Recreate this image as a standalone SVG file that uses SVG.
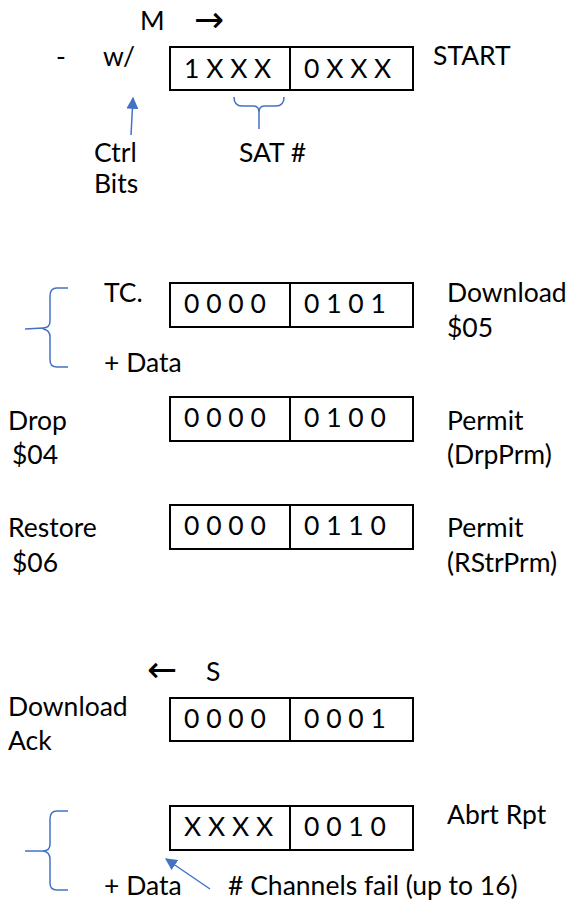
<svg xmlns="http://www.w3.org/2000/svg" width="571" height="905" viewBox="0 0 571 905">
<style>
text{font-family:Lato,"Open Sans","Liberation Sans",sans-serif;font-size:26.5px;fill:#000}
.arr{font-family:"DejaVu Sans",sans-serif;font-size:36px}
.box{fill:#fff;stroke:#000;stroke-width:2}
.blue{fill:none;stroke:#4472C4;stroke-width:1.5}
</style>
<defs>
<marker id="ah" viewBox="0 0 10 10" refX="9" refY="5" markerWidth="12" markerHeight="12" markerUnits="userSpaceOnUse" orient="auto"><path d="M0,0L10,5L0,10z" fill="#4472C4"/></marker>
</defs>
<rect width="571" height="905" fill="#fff"/>
<g id="header-m">
<text x="140" y="30">M</text>
<text class="arr" x="194" y="32">→</text>
<text x="56" y="66">-</text>
<text x="103" y="66">w/</text>
</g>
<g id="start">
<rect class="box" x="170" y="47" width="243" height="43"/>
<line x1="290" y1="47" x2="290" y2="90" stroke="#000" stroke-width="2"/>
<text x="184" y="78">1 X X X</text>
<text x="304" y="78">0 X X X</text>
<text x="433" y="65">START</text>
<text x="239" y="162">SAT #</text>
<text x="94" y="162">Ctrl</text>
<text x="94" y="193">Bits</text>
</g>
<g id="tc">
<rect class="box" x="170" y="283" width="243" height="44"/>
<line x1="290" y1="283" x2="290" y2="327" stroke="#000" stroke-width="2"/>
<text x="184" y="313">0 0 0 0</text>
<text x="304" y="313">0 1 0 1</text>
<text x="104" y="302">TC.</text>
<text x="104" y="372">+ Data</text>
<text x="447" y="302">Download</text>
<text x="447" y="337">$05</text>
</g>
<g id="drop">
<rect class="box" x="170" y="397" width="243" height="44"/>
<line x1="290" y1="397" x2="290" y2="441" stroke="#000" stroke-width="2"/>
<text x="184" y="427">0 0 0 0</text>
<text x="304" y="427">0 1 0 0</text>
<text x="8" y="430">Drop</text>
<text x="12" y="464">$04</text>
<text x="447" y="430">Permit</text>
<text x="447" y="464">(DrpPrm)</text>
</g>
<g id="restore">
<rect class="box" x="170" y="505" width="243" height="44"/>
<line x1="290" y1="505" x2="290" y2="549" stroke="#000" stroke-width="2"/>
<text x="184" y="535">0 0 0 0</text>
<text x="304" y="535">0 1 1 0</text>
<text x="8" y="537">Restore</text>
<text x="12" y="572">$06</text>
<text x="447" y="537">Permit</text>
<text x="447" y="572">(RStrPrm)</text>
</g>
<g id="header-s">
<text class="arr" x="147" y="682">←</text>
<text x="206" y="681">S</text>
</g>
<g id="ack">
<rect class="box" x="170" y="698" width="243" height="43"/>
<line x1="290" y1="698" x2="290" y2="741" stroke="#000" stroke-width="2"/>
<text x="184" y="728">0 0 0 0</text>
<text x="304" y="728">0 0 0 1</text>
<text x="8" y="716">Download</text>
<text x="8" y="750">Ack</text>
</g>
<g id="abrt">
<rect class="box" x="170" y="806" width="243" height="44"/>
<line x1="290" y1="806" x2="290" y2="850" stroke="#000" stroke-width="2"/>
<text x="184" y="836">X X X X</text>
<text x="304" y="836">0 0 1 0</text>
<text x="447" y="824">Abrt Rpt</text>
<text x="104" y="895">+ Data</text>
<text x="228" y="895"># Channels fail (up to 16)</text>
</g>
<g id="connectors">
<path class="blue" d="M234,97 Q234,106 242,106 L254,106 Q259,106 259,113 L259,129 M259,113 Q259,106 264,106 L276,106 Q284,106 284,97"/>
<line class="blue" x1="131" y1="135" x2="133" y2="98" marker-end="url(#ah)"/>
<path class="blue" d="M68,288 L57,288 Q50,288 50,296 L50,321 Q50,328 43,328 L25,329 M43,329 Q50,330 50,337 L50,360 Q50,367 57,367 L68,367"/>
<path class="blue" d="M68,811 L57,811 Q50,811 50,819 L50,844 Q50,851 43,851 L25,851 M43,851 Q50,852 50,859 L50,883 Q50,890 57,890 L68,890"/>
<line class="blue" x1="210" y1="889" x2="166" y2="859" marker-end="url(#ah)"/>
</g>
</svg>
